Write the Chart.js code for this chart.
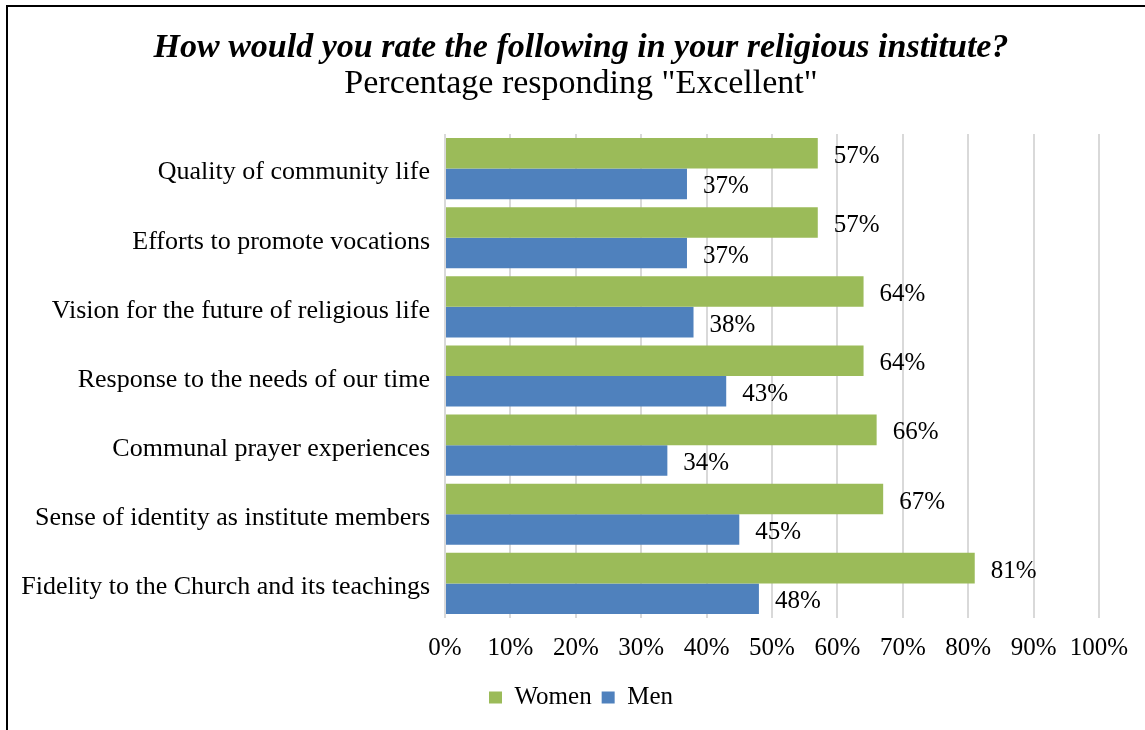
<!DOCTYPE html>
<html>
<head>
<meta charset="utf-8">
<script src="https://cdn.jsdelivr.net/npm/chart.js@4/dist/chart.umd.min.js"></script>
<style>
  html, body { margin: 0; padding: 0; background: #fff; overflow: hidden; }
  #wrap { position: absolute; left: 0; top: 0; width: 1160px; height: 730px; }
</style>
</head>
<body>
<div id="wrap"><canvas id="myChart"></canvas></div>
<script>
const categories = [
  'Quality of community life',
  'Efforts to promote vocations',
  'Vision for the future of religious life',
  'Response to the needs of our time',
  'Communal prayer experiences',
  'Sense of identity as institute members',
  'Fidelity to the Church and its teachings'
];
const women = [57, 57, 64, 64, 66, 67, 81];
const men = [37, 37, 38, 43, 34, 45, 48];
const xTicks = [0, 10, 20, 30, 40, 50, 60, 70, 80, 90, 100];

const FONT = "'Liberation Serif', 'Times New Roman', serif";

// frame lines (left + top) like the original picture
const framePlugin = {
  id: 'frame',
  beforeDraw(chart) {
    const ctx = chart.ctx;
    ctx.save();
    ctx.fillStyle = '#fff';
    ctx.fillRect(0, 0, chart.width, chart.height);
    ctx.fillStyle = '#000';
    ctx.fillRect(6, 5, 2, chart.height);
    ctx.fillRect(6, 5, chart.width, 2);
    ctx.restore();
  }
};

// value labels at the end of each bar
const valueLabels = {
  id: 'valueLabels',
  afterDatasetsDraw(chart) {
    const ctx = chart.ctx;
    ctx.save();
    ctx.font = '25px ' + FONT;
    ctx.fillStyle = '#000';
    ctx.textAlign = 'left';
    ctx.textBaseline = 'middle';
    chart.data.datasets.forEach((ds, di) => {
      chart.getDatasetMeta(di).data.forEach((bar, i) => {
        ctx.fillText(ds.data[i] + '%', bar.x + 16, bar.y + 3);
      });
    });
    ctx.restore();
  }
};

const data = {
  labels: categories,
  datasets: [
    { label: 'Women', data: women, backgroundColor: '#9bbb59' },
    { label: 'Men', data: men, backgroundColor: '#4f81bd' }
  ]
};

const config = {
  type: 'bar',
  data: data,
  options: {
    indexAxis: 'y',
    responsive: false,
    animation: false,
    layout: { padding: { left: 8, right: 6, top: 0, bottom: 10 } },
    datasets: {
      bar: { categoryPercentage: 0.884, barPercentage: 1.0 }
    },
    scales: {
      x: {
        min: 0,
        max: 100,
        afterBuildTicks: (scale) => { scale.ticks = xTicks.map(v => ({ value: v })); },
        ticks: {
          callback: (v) => v + '%',
          color: '#000',
          font: { family: FONT, size: 25 },
          padding: 15,
          maxRotation: 0
        },
        grid: { color: '#d9d9d9', lineWidth: 2, drawTicks: false },
        border: { display: false },
        afterFit: (scale) => { scale.height = 57; }
      },
      y: {
        ticks: {
          color: '#000',
          font: { family: FONT, size: 26 },
          padding: 15,
          labelOffset: 4
        },
        grid: { display: false, drawTicks: false },
        border: { display: false },
        afterFit: (scale) => { scale.width = 437; }
      },
      // empty spacer on the right so the plot ends where the original does
      yRight: {
        type: 'category',
        position: 'right',
        ticks: { display: false },
        grid: { display: false, drawTicks: false },
        border: { display: false },
        afterFit: (scale) => { scale.width = 55; }
      }
    },
    plugins: {
      title: {
        display: true,
        text: 'How would you rate the following in your religious institute?',
        color: '#000',
        font: { family: FONT, size: 34, weight: 'bold', style: 'italic', lineHeight: 1 },
        padding: { top: 31, bottom: 2 }
      },
      subtitle: {
        display: true,
        text: 'Percentage responding "Excellent"',
        color: '#000',
        font: { family: FONT, size: 34, lineHeight: 1 },
        padding: { top: 0, bottom: 33 }
      },
      legend: {
        position: 'bottom',
        labels: {
          color: '#000',
          font: { family: FONT, size: 25 },
          boxWidth: 13,
          boxHeight: 12,
          padding: 10
        }
      },
      tooltip: { enabled: false }
    }
  },
  plugins: [framePlugin, valueLabels]
};

const canvas = document.getElementById('myChart');
canvas.width = 1160;
canvas.height = 730;
const myChart = new Chart(canvas.getContext('2d'), config);
</script>
</body>
</html>
